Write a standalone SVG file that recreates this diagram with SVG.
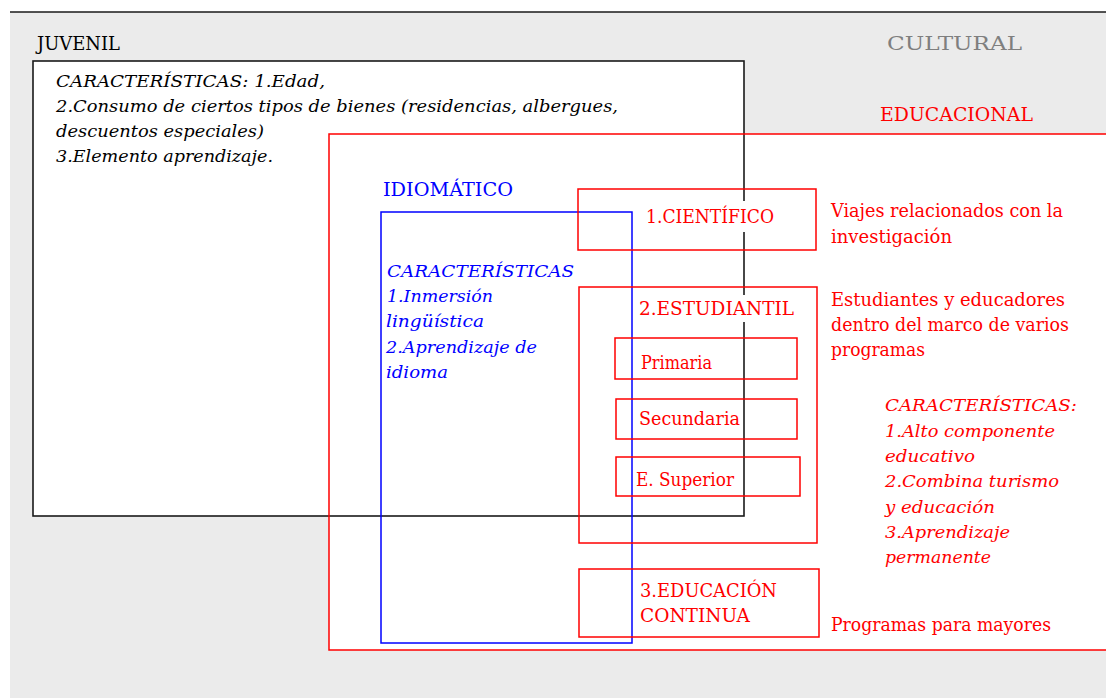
<svg xmlns="http://www.w3.org/2000/svg" width="1106" height="698" viewBox="0 0 1106 698">
  <style>
    .t { font-family: 'DejaVu Serif', 'Liberation Serif', serif; font-size: 18px; }
    .i { font-family: 'DejaVu Serif', 'Liberation Serif', serif; font-size: 16.5px; font-style: italic; }
    .red { fill: #ff0000; }
    .blue { fill: #0000ff; }
    .blk { fill: #000000; }
    .ored { fill: none; stroke: #ff0000; stroke-width: 1.5; }
    .oblue { fill: none; stroke: #0000ff; stroke-width: 1.5; }
    .oblk { fill: none; stroke: #1a1a1a; stroke-width: 1.6; }
  </style>
  <rect x="0" y="0" width="1106" height="698" fill="#ffffff"/>
  <rect x="10" y="12" width="1096" height="686" fill="#ebebeb"/>
  <line x1="10" y1="12" x2="1106" y2="12" stroke="#1a1a1a" stroke-width="1.6"/>

  <!-- white interiors -->
  <rect x="33" y="61" width="711" height="455" fill="#ffffff"/>
  <rect x="329" y="134" width="781" height="516" fill="#ffffff"/>

  <g id="cultural">
    <text class="t" x="887" y="50" font-size="25" fill="#7f7f7f" textLength="135" lengthAdjust="spacingAndGlyphs">CULTURAL</text>
  </g>

  <g id="juvenil">
    <text class="t blk" x="37" y="50" textLength="83" lengthAdjust="spacingAndGlyphs">JUVENIL</text>
    <rect class="oblk" x="33" y="61" width="711" height="455"/>
    <text class="i blk" x="56" y="87" textLength="269" lengthAdjust="spacingAndGlyphs">CARACTERÍSTICAS: 1.Edad,</text>
    <text class="i blk" x="56" y="112" textLength="562" lengthAdjust="spacingAndGlyphs">2.Consumo de ciertos tipos de bienes (residencias, albergues,</text>
    <text class="i blk" x="56" y="137" textLength="208" lengthAdjust="spacingAndGlyphs">descuentos especiales)</text>
    <text class="i blk" x="56" y="162" textLength="217" lengthAdjust="spacingAndGlyphs">3.Elemento aprendizaje.</text>
  </g>

  <g id="educacional">
    <text class="t red" x="880" y="121" font-size="19" textLength="153" lengthAdjust="spacingAndGlyphs">EDUCACIONAL</text>
    <rect class="ored" x="329" y="134" width="781" height="516"/>
    <text class="i red" x="885" y="411" textLength="192" lengthAdjust="spacingAndGlyphs">CARACTERÍSTICAS:</text>
    <text class="i red" x="885" y="436.5" textLength="170" lengthAdjust="spacingAndGlyphs">1.Alto componente</text>
    <text class="i red" x="885" y="462" textLength="90" lengthAdjust="spacingAndGlyphs">educativo</text>
    <text class="i red" x="885" y="487" textLength="174" lengthAdjust="spacingAndGlyphs">2.Combina turismo</text>
    <text class="i red" x="885" y="512.5" textLength="110" lengthAdjust="spacingAndGlyphs">y educación</text>
    <text class="i red" x="885" y="538" textLength="125" lengthAdjust="spacingAndGlyphs">3.Aprendizaje</text>
    <text class="i red" x="885" y="563" textLength="106" lengthAdjust="spacingAndGlyphs">permanente</text>
  </g>

  <g id="idiomatico">
    <text class="t blue" x="383" y="196" textLength="130" lengthAdjust="spacingAndGlyphs">IDIOMÁTICO</text>
    <rect class="oblue" x="381" y="212" width="251" height="431"/>
    <text class="i blue" x="387" y="277" textLength="187" lengthAdjust="spacingAndGlyphs">CARACTERÍSTICAS</text>
    <text class="i blue" x="387" y="302" textLength="106" lengthAdjust="spacingAndGlyphs">1.Inmersión</text>
    <text class="i blue" x="386" y="327" textLength="98" lengthAdjust="spacingAndGlyphs">lingüística</text>
    <text class="i blue" x="386" y="353" textLength="151" lengthAdjust="spacingAndGlyphs">2.Aprendizaje de</text>
    <text class="i blue" x="386" y="378" textLength="62" lengthAdjust="spacingAndGlyphs">idioma</text>
  </g>

  <g id="cientifico">
    <rect class="ored" x="578" y="189" width="238" height="61"/>
    <rect x="640" y="201" width="146" height="31" fill="#ffffff"/>
    <text class="t red" x="646" y="223" textLength="128" lengthAdjust="spacingAndGlyphs">1.CIENTÍFICO</text>
    <text class="t red" x="831" y="217" textLength="232" lengthAdjust="spacingAndGlyphs">Viajes relacionados con la</text>
    <text class="t red" x="831" y="243" textLength="121" lengthAdjust="spacingAndGlyphs">investigación</text>
  </g>

  <g id="estudiantil">
    <rect class="ored" x="579" y="287" width="238" height="256"/>
    <rect x="634" y="295" width="166" height="27" fill="#ffffff"/>
    <text class="t red" x="639" y="315" textLength="155" lengthAdjust="spacingAndGlyphs">2.ESTUDIANTIL</text>
    <text class="t red" x="831" y="306" textLength="234" lengthAdjust="spacingAndGlyphs">Estudiantes y educadores</text>
    <text class="t red" x="831" y="331" textLength="238" lengthAdjust="spacingAndGlyphs">dentro del marco de varios</text>
    <text class="t red" x="831" y="356" textLength="94" lengthAdjust="spacingAndGlyphs">programas</text>
  </g>

  <g id="primaria">
    <rect class="ored" x="615" y="338" width="182" height="41"/>
    <text class="t red" x="641" y="369" textLength="71" lengthAdjust="spacingAndGlyphs">Primaria</text>
  </g>

  <g id="secundaria">
    <rect class="ored" x="616" y="399" width="181" height="40"/>
    <text class="t red" x="639" y="425" textLength="101" lengthAdjust="spacingAndGlyphs">Secundaria</text>
  </g>

  <g id="superior">
    <rect class="ored" x="616" y="457" width="184" height="39"/>
    <text class="t red" x="636" y="486" textLength="98" lengthAdjust="spacingAndGlyphs">E. Superior</text>
  </g>

  <g id="continua">
    <rect class="ored" x="579" y="569" width="240" height="68"/>
    <text class="t red" x="640" y="597" textLength="137" lengthAdjust="spacingAndGlyphs">3.EDUCACIÓN</text>
    <text class="t red" x="640" y="622" textLength="110" lengthAdjust="spacingAndGlyphs">CONTINUA</text>
    <text class="t red" x="831" y="631" textLength="220" lengthAdjust="spacingAndGlyphs">Programas para mayores</text>
  </g>

  <g id="connectors"/>
</svg>
